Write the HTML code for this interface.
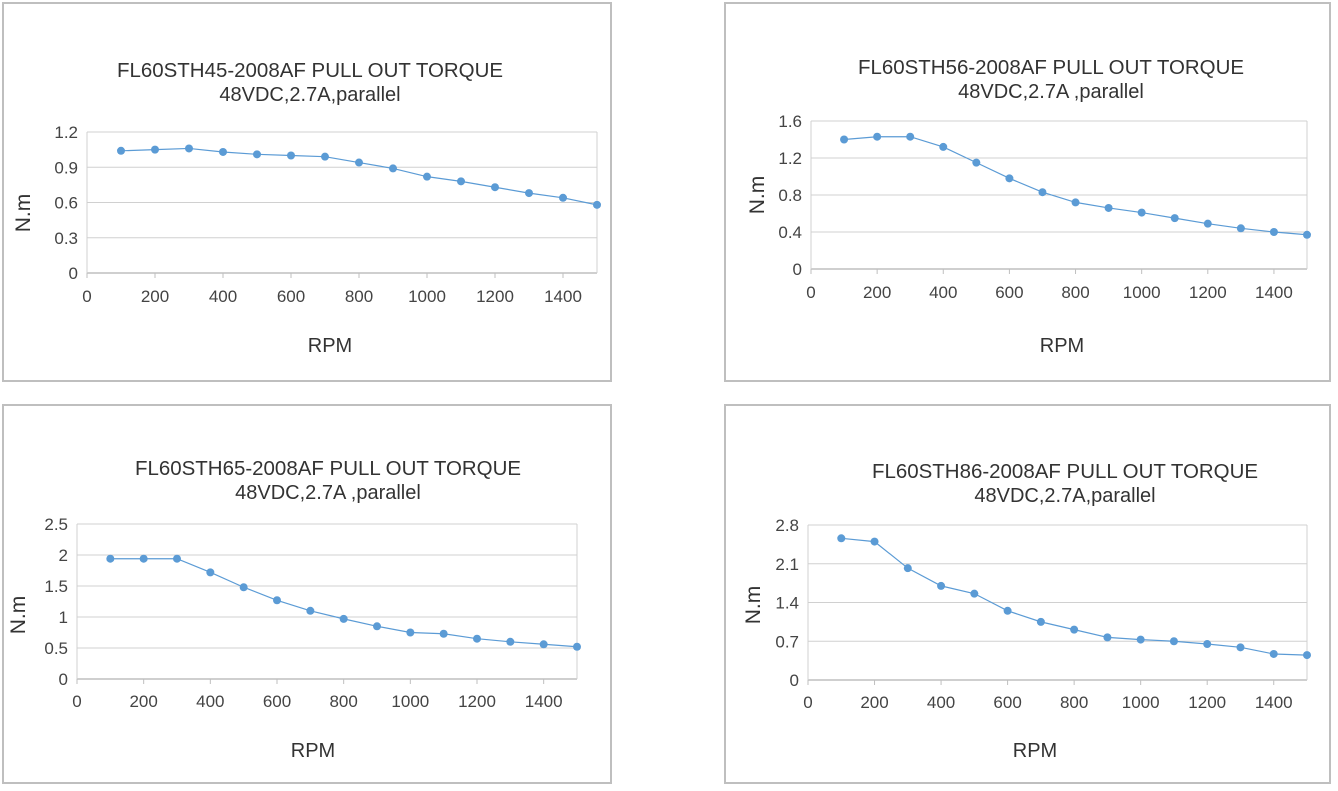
<!DOCTYPE html>
<html><head><meta charset="utf-8"><style>
html,body{margin:0;padding:0;background:#fff;}
svg{display:block;font-family:"Liberation Sans",sans-serif;}
</style></head><body>
<svg id="s" width="1338" height="791" xmlns="http://www.w3.org/2000/svg"></svg>
<script>
const S=document.getElementById('s');let h='';
const P=[
{b:[3,3,608,378],pl:87,pr:597,pt:132,pb:273,max:1.2,ticks:['0','0.3','0.6','0.9','1.2'],t1:'FL60STH45-2008AF PULL OUT TORQUE',t2:'48VDC,2.7A,parallel',tc:310,ty:77,yl:22,ylc:213,xb:302,rx:330,ry:345,tw:386,
d:[1.04,1.05,1.06,1.03,1.01,1.0,0.99,0.94,0.89,0.82,0.78,0.73,0.68,0.64,0.58]},
{b:[725,3,605,378],pl:811,pr:1307,pt:121,pb:269,max:1.6,ticks:['0','0.4','0.8','1.2','1.6'],t1:'FL60STH56-2008AF PULL OUT TORQUE',t2:'48VDC,2.7A ,parallel',tc:1051,ty:74,yl:756,ylc:195,xb:298,rx:1062,ry:345,tw:386,
d:[1.4,1.43,1.43,1.32,1.15,0.98,0.83,0.72,0.66,0.61,0.55,0.49,0.44,0.40,0.37]},
{b:[3,405,608,378],pl:77,pr:577,pt:524,pb:679,max:2.5,ticks:['0','0.5','1','1.5','2','2.5'],t1:'FL60STH65-2008AF PULL OUT TORQUE',t2:'48VDC,2.7A ,parallel',tc:328,ty:475,yl:17,ylc:615,xb:707,rx:313,ry:750,tw:386,
d:[1.94,1.94,1.94,1.72,1.48,1.27,1.1,0.97,0.85,0.75,0.73,0.65,0.6,0.56,0.52]},
{b:[725,405,605,378],pl:808,pr:1307,pt:525,pb:680,max:2.8,ticks:['0','0.7','1.4','2.1','2.8'],t1:'FL60STH86-2008AF PULL OUT TORQUE',t2:'48VDC,2.7A,parallel',tc:1065,ty:478,yl:752,ylc:605,xb:708,rx:1035,ry:750,tw:386,
d:[2.56,2.5,2.02,1.7,1.56,1.25,1.05,0.91,0.77,0.73,0.7,0.65,0.59,0.47,0.45]}];
for(const p of P){
const [bx,by,bw,bh]=p.b;
h+=`<rect x="${bx}" y="${by}" width="${bw}" height="${bh}" fill="#fff" stroke="#bfbfbf" stroke-width="2"/>`;
h+=`<text x="${p.tc}" y="${p.ty}" font-size="20" fill="#333" text-anchor="middle" textLength="${p.tw}" lengthAdjust="spacingAndGlyphs">${p.t1}</text>`;
h+=`<text x="${p.tc}" y="${p.ty+24}" font-size="20" fill="#333" text-anchor="middle">${p.t2}</text>`;
const n=p.ticks.length-1;
for(let i=0;i<=n;i++){const y=p.pb-(p.pb-p.pt)*i/n;
h+=`<line x1="${p.pl}" x2="${p.pr}" y1="${y}" y2="${y}" stroke="${i==0?'#bfbfbf':'#d0d0d0'}" stroke-width="${i==0?1.5:1}"/>`;
h+=`<text x="${p.pl-9}" y="${y+6}" font-size="17" fill="#444" text-anchor="end">${p.ticks[i]}</text>`;}
h+=`<line x1="${p.pl}" x2="${p.pl}" y1="${p.pt}" y2="${p.pb}" stroke="#d0d0d0"/><line x1="${p.pr}" x2="${p.pr}" y1="${p.pt}" y2="${p.pb}" stroke="#d0d0d0"/>`;
const X=v=>p.pl+(p.pr-p.pl)*v/1500;
for(let v=0;v<=1400;v+=200){h+=`<line x1="${X(v)}" x2="${X(v)}" y1="${p.pb}" y2="${p.pb+5}" stroke="#bfbfbf"/>`;
h+=`<text x="${X(v)}" y="${p.xb}" font-size="17" fill="#444" text-anchor="middle">${v}</text>`;}
h+=`<text transform="translate(${p.yl+8},${p.ylc}) rotate(-90)" font-size="21" fill="#333" text-anchor="middle">N.m</text>`;
h+=`<text x="${p.rx}" y="${p.ry+7}" font-size="20" fill="#333" text-anchor="middle">RPM</text>`;
const pts=p.d.map((v,i)=>[X((i+1)*100),p.pb-(p.pb-p.pt)*v/p.max]);
h+=`<polyline points="${pts.map(q=>q.join(',')).join(' ')}" fill="none" stroke="#5b9bd5" stroke-width="1.2"/>`;
for(const q of pts)h+=`<circle cx="${q[0]}" cy="${q[1]}" r="4" fill="#5b9bd5"/>`;
}
S.innerHTML=h;
</script>
</body></html>
